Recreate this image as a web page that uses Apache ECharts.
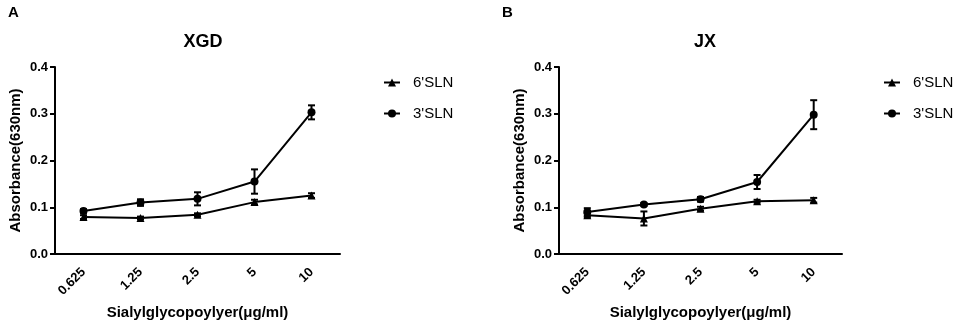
<!DOCTYPE html>
<html>
<head>
<meta charset="utf-8">
<script src="https://cdn.jsdelivr.net/npm/echarts@6/dist/echarts.min.js"></script>
<style>
html,body{margin:0;padding:0;background:#fff;}
#chart{width:957px;height:325px;}
</style>
</head>
<body>
<div id="chart"></div>
<script>
// ---- data ----
var categories = ['0.625', '1.25', '2.5', '5', '10'];
var seriesNames = ["6'SLN", "3'SLN"];
var yTicks = [0, 0.1, 0.2, 0.3, 0.4];

// Panel A (XGD)
var xgd6Mean = [0.079, 0.077, 0.084, 0.111, 0.125];
var xgd6Err  = [0.004, 0.003, 0.003, 0.005, 0.005];
var xgd3Mean = [0.092, 0.110, 0.118, 0.155, 0.303];
var xgd3Err  = [0.004, 0.007, 0.014, 0.026, 0.015];

// Panel B (JX)
var jx6Mean = [0.083, 0.076, 0.097, 0.113, 0.115];
var jx6Err  = [0.004, 0.015, 0.004, 0.003, 0.005];
var jx3Mean = [0.090, 0.106, 0.117, 0.154, 0.298];
var jx3Err  = [0.008, 0.003, 0.005, 0.015, 0.031];

function errData(mean, err) {
  return mean.map(function (m, i) { return [i, m - err[i], m + err[i]]; });
}

function errRender(params, api) {
  var lo = api.coord([api.value(0), api.value(1)]);
  var hi = api.coord([api.value(0), api.value(2)]);
  var w = 3.5;
  var st = { stroke: '#000', lineWidth: 2 };
  return {
    type: 'group',
    children: [
      { type: 'line', shape: { x1: lo[0], y1: hi[1], x2: lo[0], y2: lo[1] }, style: st },
      { type: 'line', shape: { x1: lo[0] - w, y1: hi[1], x2: lo[0] + w, y2: hi[1] }, style: st },
      { type: 'line', shape: { x1: lo[0] - w, y1: lo[1], x2: lo[0] + w, y2: lo[1] }, style: st }
    ]
  };
}

var FONT = '"Liberation Sans", Arial, sans-serif';

function xAxisDef(gi) {
  return {
    type: 'category', gridIndex: gi, data: categories, boundaryGap: true,
    name: 'Sialylglycopoylyer(\u03bcg/ml)', nameLocation: 'middle', nameGap: 51,
    nameTextStyle: { color: '#000', fontWeight: 'bold', fontSize: 15, fontFamily: FONT },
    axisLine: { lineStyle: { color: '#000', width: 2 } },
    axisTick: { alignWithLabel: true, length: 6, lineStyle: { color: '#000', width: 2 } },
    axisLabel: { rotate: 45, color: '#000', fontWeight: 'bold', fontSize: 13, fontFamily: FONT, margin: 16 },
    splitLine: { show: false }
  };
}
function yAxisDef(gi) {
  return {
    type: 'value', gridIndex: gi, min: yTicks[0], max: yTicks[yTicks.length - 1], interval: 0.1,
    name: 'Absorbance(630nm)', nameLocation: 'middle', nameGap: 32, nameRotate: 90,
    nameTextStyle: { color: '#000', fontWeight: 'bold', fontSize: 15, fontFamily: FONT },
    axisLine: { show: true, lineStyle: { color: '#000', width: 2 } },
    axisTick: { show: true, length: 5, lineStyle: { color: '#000', width: 2 } },
    axisLabel: { color: '#000', fontWeight: 'bold', fontSize: 13, fontFamily: FONT, margin: 7,
      formatter: function (v) { return v.toFixed(1); } },
    splitLine: { show: false }
  };
}
function lineSeries(name, gi, data, symbol) {
  return {
    type: 'line', name: name, xAxisIndex: gi, yAxisIndex: gi, data: data,
    symbol: symbol, symbolSize: 8,
    itemStyle: { color: '#000' }, lineStyle: { color: '#000', width: 2 },
    animation: false, z: 3
  };
}
function errSeries(name, gi, mean, err) {
  return {
    type: 'custom', name: name + ' error', xAxisIndex: gi, yAxisIndex: gi,
    data: errData(mean, err), renderItem: errRender,
    itemStyle: { color: '#000' },
    encode: { x: 0, y: [1, 2] }, animation: false, z: 2, silent: true
  };
}
function legendDef(left) {
  return {
    data: seriesNames, orient: 'vertical', left: left, top: 70, itemGap: 16,
    itemWidth: 16, itemHeight: 10,
    textStyle: { color: '#000', fontSize: 15, fontFamily: FONT, padding: [0, 0, 0, 8] },
    selectedMode: false
  };
}

var chart = echarts.init(document.getElementById('chart'), null, { renderer: 'canvas' });
chart.setOption({
  backgroundColor: '#fff',
  color: ['#000'],
  animation: false,
  title: [
    { text: 'A', left: 3, top: 0, textStyle: { fontSize: 15, fontWeight: 'bold', color: '#000', fontFamily: FONT } },
    { text: 'B', left: 497, top: 0, textStyle: { fontSize: 15, fontWeight: 'bold', color: '#000', fontFamily: FONT } },
    { text: 'XGD', left: 198, textAlign: 'center', top: 28, textStyle: { fontSize: 18, fontWeight: 'bold', color: '#000', fontFamily: FONT } },
    { text: 'JX', left: 700, textAlign: 'center', top: 28, textStyle: { fontSize: 18, fontWeight: 'bold', color: '#000', fontFamily: FONT } }
  ],
  legend: [legendDef(378), legendDef(878)],
  grid: [
    { left: 55, top: 67, width: 285, height: 189 },
    { left: 559, top: 67, width: 283, height: 187 }
  ],
  xAxis: [xAxisDef(0), xAxisDef(1)],
  yAxis: [yAxisDef(0), yAxisDef(1)],
  series: [
    errSeries(seriesNames[0], 0, xgd6Mean, xgd6Err),
    errSeries(seriesNames[1], 0, xgd3Mean, xgd3Err),
    lineSeries(seriesNames[0], 0, xgd6Mean, 'triangle'),
    lineSeries(seriesNames[1], 0, xgd3Mean, 'circle'),
    errSeries(seriesNames[0], 1, jx6Mean, jx6Err),
    errSeries(seriesNames[1], 1, jx3Mean, jx3Err),
    lineSeries(seriesNames[0], 1, jx6Mean, 'triangle'),
    lineSeries(seriesNames[1], 1, jx3Mean, 'circle')
  ]
});
</script>
</body>
</html>
